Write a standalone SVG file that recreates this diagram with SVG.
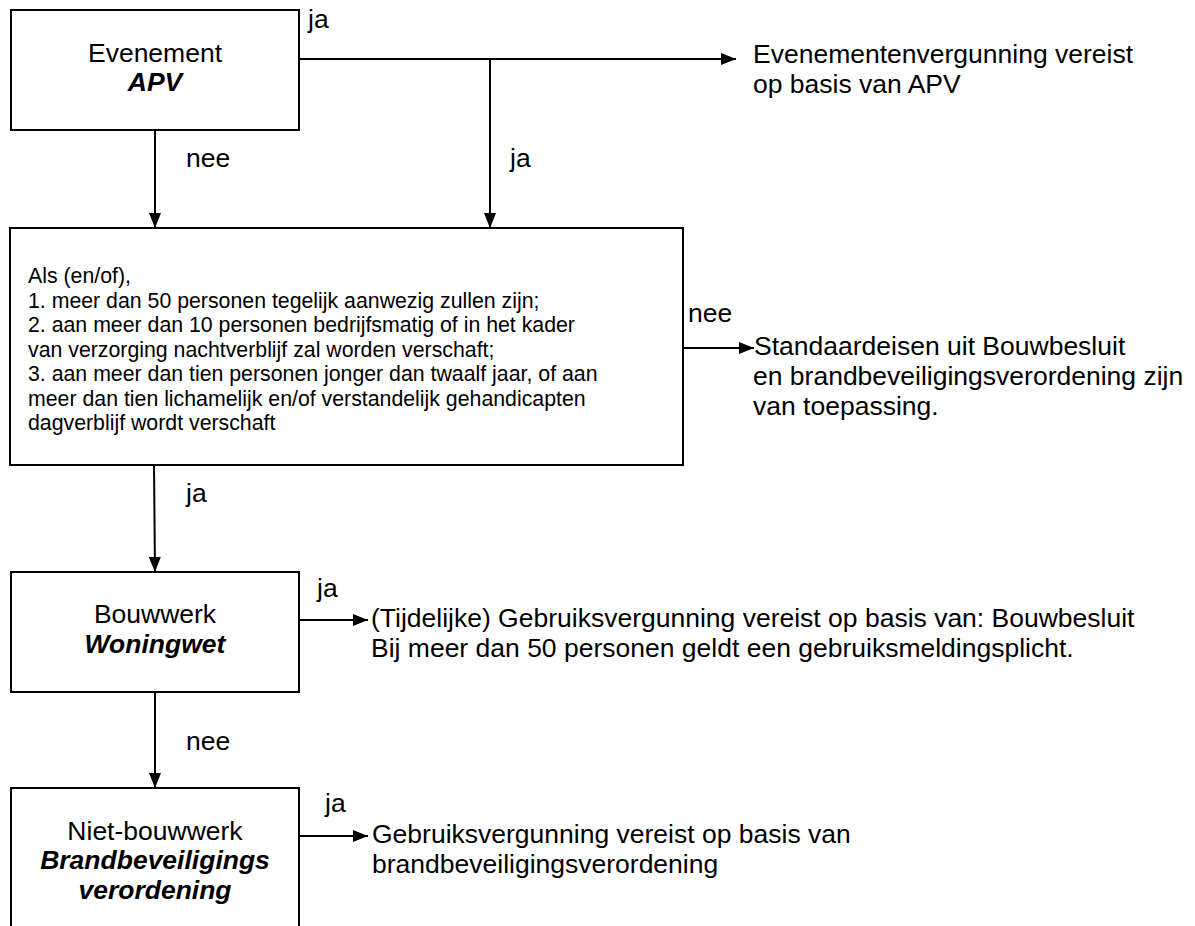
<svg xmlns="http://www.w3.org/2000/svg" width="1195" height="926" viewBox="0 0 1195 926">
<defs>
<marker id="ah" viewBox="0 0 15 12" refX="15" refY="6" markerWidth="15" markerHeight="12" markerUnits="userSpaceOnUse" orient="auto">
<path d="M0,0 L15,6 L0,12 z" fill="#000"/>
</marker>
</defs>
<style>
.box{fill:#fff;stroke:#000;stroke-width:2}
.t{font-family:"Liberation Sans",Arial,sans-serif;font-size:26.5px;fill:#000}
.c{text-anchor:middle}
.bi{font-weight:bold;font-style:italic}
.s{font-family:"Liberation Sans",Arial,sans-serif;font-size:21.3px;fill:#000}
.ln{fill:none;stroke:#000;stroke-width:2}
.ar{fill:none;stroke:#000;stroke-width:2;marker-end:url(#ah)}
</style>
<rect width="1195" height="926" fill="#fff"/>
<g id="connectors">
<path class="ln" d="M299,59 H490"/>
<path class="ar" d="M490,59 H736"/>
<path class="ar" d="M490,59 V228"/>
<path class="ar" d="M155,130 V228"/>
<path class="ar" d="M683,348 H754"/>
<path class="ar" d="M154,465 L155,572"/>
<path class="ar" d="M299,620 H368"/>
<path class="ar" d="M155,692 V788"/>
<path class="ar" d="M299,836 H368"/>
<text class="t" x="308" y="28">ja</text>
<text class="t" x="186" y="167">nee</text>
<text class="t" x="510" y="167">ja</text>
<text class="t" x="688" y="322">nee</text>
<text class="t" x="186" y="502">ja</text>
<text class="t" x="317" y="597">ja</text>
<text class="t" x="186" y="750">nee</text>
<text class="t" x="325" y="812">ja</text>
</g>
<g id="evenement">
<rect class="box" x="11" y="10" width="288" height="120"/>
<text class="t c" x="155" y="62">Evenement</text>
<text class="t c bi" x="155" y="91">APV</text>
</g>
<g id="evenementenvergunning">
<text class="t" x="753" y="63">Evenementenvergunning vereist</text>
<text class="t" x="753" y="93">op basis van APV</text>
</g>
<g id="voorwaarden">
<rect class="box" x="10" y="228" width="673" height="237"/>
<text class="s" x="28" y="283">Als (en/of),</text>
<text class="s" x="28" y="307.5">1. meer dan 50 personen tegelijk aanwezig zullen zijn;</text>
<text class="s" x="28" y="332">2. aan meer dan 10 personen bedrijfsmatig of in het kader</text>
<text class="s" x="28" y="356.5">van verzorging nachtverblijf zal worden verschaft;</text>
<text class="s" x="28" y="381">3. aan meer dan tien personen jonger dan twaalf jaar, of aan</text>
<text class="s" x="28" y="405.5">meer dan tien lichamelijk en/of verstandelijk gehandicapten</text>
<text class="s" x="28" y="430">dagverblijf wordt verschaft</text>
</g>
<g id="standaardeisen">
<text class="t" x="754" y="355">Standaardeisen uit Bouwbesluit</text>
<text class="t" x="753" y="385">en brandbeveiligingsverordening zijn</text>
<text class="t" x="753" y="415">van toepassing.</text>
</g>
<g id="bouwwerk">
<rect class="box" x="11" y="572" width="288" height="120"/>
<text class="t c" x="155" y="623">Bouwwerk</text>
<text class="t c bi" x="155" y="653">Woningwet</text>
</g>
<g id="gebruiksvergunning">
<text class="t" x="371" y="627">(Tijdelijke) Gebruiksvergunning vereist op basis van: Bouwbesluit</text>
<text class="t" x="371" y="657">Bij meer dan 50 personen geldt een gebruiksmeldingsplicht.</text>
</g>
<g id="niet-bouwwerk">
<rect class="box" x="11" y="788" width="288" height="160"/>
<text class="t c" x="155" y="840">Niet-bouwwerk</text>
<text class="t c bi" x="155" y="869">Brandbeveiligings</text>
<text class="t c bi" x="155" y="899">verordening</text>
</g>
<g id="gebruiksvergunning-bbv">
<text class="t" x="372" y="843">Gebruiksvergunning vereist op basis van</text>
<text class="t" x="372" y="873">brandbeveiligingsverordening</text>
</g>
</svg>
